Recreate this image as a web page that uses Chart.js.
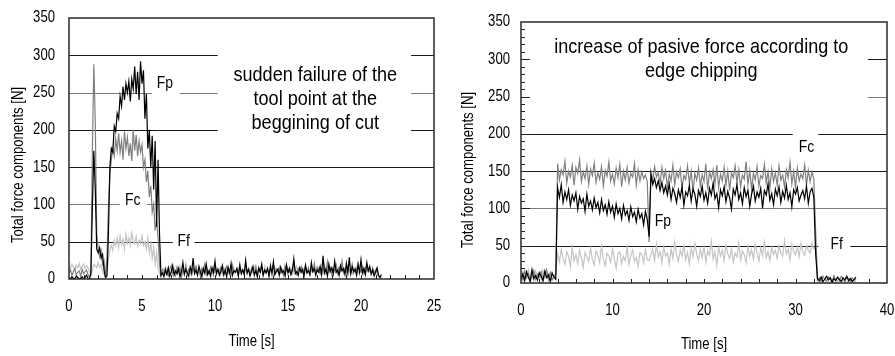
<!DOCTYPE html>
<html>
<head>
<meta charset="utf-8">
<script src="https://cdn.jsdelivr.net/npm/chart.js@4.4.0/dist/chart.umd.min.js"></script>
<style>
  html, body { margin: 0; padding: 0; background: #fff; }
  #wrap { position: relative; width: 895px; height: 356px; overflow: hidden; }
  canvas { position: absolute; top: 0; }
  #left { left: 0; }
  #right { left: 447px; }
</style>
</head>
<body>
<div id="wrap">
  <canvas id="left" width="447" height="356"></canvas>
  <canvas id="right" width="448" height="356"></canvas>
</div>
<script>
// ---- data ----
const yTicks = [0, 50, 100, 150, 200, 250, 300, 350];
const leftXTicks = [0, 5, 10, 15, 20, 25];
const rightXTicks = [0, 10, 20, 30, 40];
const LEFT_STEP = 0.1;   // s between samples, left record
const RIGHT_STEP = 0.2;  // s between samples, right record

// left: sudden failure of the tool point
const leftFp = [2,0,3,1,0,4,2,0,1,3,0,2,5,1,0,
  8,95,172,120,40,35,42,28,33,12,
  2,4,60,150,175,170,205,198,222,215,
  245,232,258,240,262,250,265,238,268,255,
  285,248,278,240,292,262,280,215,248,175,
  200,150,192,120,185,70,160,60,5,
  8,3,12,6,15,4,9,18,5,11,7,14,3,10,22,6,13,8,4,16,
  9,28,7,12,5,17,10,3,14,8,20,6,11,4,15,9,24,7,13,5,
  10,18,6,12,3,16,8,21,5,11,9,14,4,19,7,12,6,25,8,13,
  4,10,17,6,11,3,15,9,20,5,12,8,14,4,18,7,23,6,10,13,
  5,16,9,11,4,19,8,14,6,12,27,7,10,5,15,9,13,4,18,8,
  11,6,22,10,14,5,12,9,17,6,31,8,13,4,20,10,15,7,24,9,
  12,5,18,11,14,6,21,8,29,7,16,10,13,5,19,9,26,8,14,6,
  22,11,17,7,12,4,9,15,5,2,6];
const leftFc = [8,12,5,10,14,6,9,11,4,13,7,10,12,6,3,
  5,170,288,210,60,40,30,38,20,25,
  3,30,95,140,160,175,165,188,172,195,
  170,185,160,198,175,190,165,182,158,200,
  172,193,165,185,170,180,150,160,130,145,
  110,125,90,100,65,80,55,20,4,
  12,6,15,9,4,13,18,7,11,5,16,10,14,3,12,8,19,6,13,9,
  5,15,11,17,7,12,4,14,10,20,6,13,8,16,11,5,18,9,12,7,
  15,10,4,13,17,8,11,6,19,12,9,14,5,16,10,13,7,21,9,12,
  6,15,11,4,17,8,14,10,18,6,12,9,15,5,13,11,20,7,14,10,
  16,8,12,5,18,11,9,15,7,13,22,10,6,14,12,17,8,11,19,9,
  15,6,13,10,21,8,16,12,7,14,11,18,9,23,10,15,6,13,12,19,
  8,16,11,24,9,14,7,17,12,10,20,8,15,11,22,13,9,16,7,14,
  18,10,12,6,15,8,11,13,4,2,3];
const leftFf = [18,14,20,16,12,19,15,21,13,17,20,14,18,15,10,
  4,12,20,18,15,22,16,19,10,6,
  2,8,25,40,45,38,52,44,55,42,
  58,46,53,40,60,48,55,45,62,50,
  47,57,44,52,48,58,45,50,40,55,
  35,48,28,42,20,35,15,8,3,
  10,14,7,12,16,5,11,9,15,6,13,8,17,4,12,10,14,7,11,15,
  6,13,9,16,8,12,5,14,10,7,15,11,6,13,9,17,8,12,10,14,
  5,11,16,7,13,9,12,6,15,10,8,14,11,18,7,12,9,13,6,15,
  10,11,8,16,12,7,14,9,13,5,17,10,12,8,15,11,6,14,9,13,
  10,16,7,12,8,15,11,9,14,6,13,10,17,8,12,11,15,7,14,9,
  12,6,16,10,13,8,11,15,9,14,7,12,10,18,8,13,11,16,9,12,
  6,14,10,15,8,13,11,17,9,12,7,14,10,16,8,11,13,9,15,7,
  12,10,14,8,11,9,13,6,4,3,2];

// right: passive force rising after edge chipping
const rightFp = [5,12,3,15,8,2,18,6,10,4,14,9,3,16,7,11,2,13,8,5,
  128,115,132,108,122,112,125,104,118,110,121,99,116,107,113,96,119,103,110,98,
  114,101,108,94,112,97,105,92,109,95,103,88,106,93,100,86,104,91,97,84,
  102,89,95,82,99,87,93,78,96,85,
  62,
  145,132,140,128,137,124,135,121,130,118,133,112,127,120,108,125,115,129,104,122,
  117,131,110,126,119,103,124,116,130,111,121,107,127,118,134,113,120,101,125,117,
  129,109,123,114,99,126,118,132,112,121,106,128,116,124,103,119,130,110,122,115,
  127,100,124,118,133,111,120,105,126,117,129,108,123,114,131,112,121,102,125,119,
  128,110,118,124,113,130,107,122,127,115,
  40,
  6,3,8,2,5,9,4,7,1,6,3,8,5,2,7,4,9,3,6,2,5,8];
const rightFc = [10,4,16,7,13,2,9,17,5,12,8,15,3,11,18,6,14,4,9,12,
  160,138,152,145,163,134,150,142,158,131,155,147,165,136,149,140,157,132,153,144,
  161,135,148,139,156,130,151,143,162,137,146,133,154,141,159,129,150,138,155,134,
  147,142,160,131,152,137,149,140,145,136,
  55,
  150,138,156,142,148,133,155,140,151,128,146,137,158,132,149,141,153,127,144,139,
  157,134,150,122,147,138,154,130,145,136,160,125,149,140,152,133,158,128,146,137,
  155,131,150,124,148,141,157,135,152,129,145,139,163,132,151,126,147,138,156,130,
  144,140,159,134,149,127,153,136,148,131,157,138,145,129,152,141,162,133,150,128,
  154,137,146,140,158,132,151,136,149,140,
  70,
  4,7,2,9,5,3,8,6,2,10,4,7,3,9,5,2,8,6,4,7,3,6];
const rightFf = [8,15,4,11,18,6,13,3,16,9,12,5,17,7,14,2,10,15,6,12,
  40,28,45,33,25,42,36,22,48,30,38,26,44,34,21,41,35,29,47,31,
  24,43,37,27,50,32,23,40,36,28,46,33,20,39,42,26,35,30,48,25,
  37,44,29,34,22,41,38,27,45,31,
  30,
  38,45,30,52,35,42,27,48,36,40,25,46,33,55,38,29,44,36,50,31,
  41,26,47,35,53,39,30,45,34,49,28,43,37,56,32,42,24,48,36,44,
  30,51,39,33,46,28,40,35,54,31,43,38,27,49,36,45,32,52,40,29,
  47,37,55,34,42,30,48,38,44,33,50,41,36,57,39,45,31,52,43,38,
  48,35,53,42,37,50,44,40,54,46,
  48,
  3,1,4,2,0,3,1,2,4,1,0,3,2,1,4,2,0,3,1,2,3,1];

const seriesColors = { Fp: "#000000", Fc: "#808080", Ff: "#c4c4c4" };
const greyGrid = [100, 250];

// the scanned figure has tall, squeezed lettering; no narrow face here, so squeeze by hand
const FAMILY = '"Liberation Sans", Arial, sans-serif';
const TXT = {
  tick: { size: 16, sx: 0.82 },
  title: { size: 16, sx: 0.82 },
  tag: { size: 17, sx: 0.82 },
  note: { size: 21, sx: 0.86 }
};

function squeezed(ctx, txt, x, y, style, align, rot) {
  ctx.save();
  ctx.font = `${style.size}px ${FAMILY}`;
  ctx.fillStyle = "#000";
  ctx.textAlign = align || "center";
  ctx.textBaseline = "middle";
  ctx.translate(x, y);
  if (rot) ctx.rotate(rot);
  ctx.scale(style.sx, 1);
  ctx.fillText(txt, 0, 0);
  ctx.restore();
}

const toPoints = (vals, step) => vals.map((v, i) => ({ x: Math.round(i * step * 10) / 10, y: v }));

// grid pieces, minor ticks, labels, curve tags and the text box
const overlay = {
  id: "overlay",
  beforeDatasetsDraw(chart, args, o) {
    const { ctx, chartArea: a, scales: { x, y } } = chart;
    ctx.save();
    ctx.lineWidth = 1;
    o.grid.forEach(([v, spans]) => {
      const py = Math.round(y.getPixelForValue(v)) + 0.5;
      ctx.strokeStyle = greyGrid.includes(v) ? "#7a7a7a" : "#1a1a1a";
      spans.forEach(([t0, t1]) => {
        ctx.beginPath();
        ctx.moveTo(x.getPixelForValue(t0), py);
        ctx.lineTo(x.getPixelForValue(t1), py);
        ctx.stroke();
      });
    });

    ctx.strokeStyle = "#222";
    const nx = Math.round((x.max - x.min) / o.xMinor);
    for (let i = 1; i < nx; i++) {
      const px = Math.round(x.getPixelForValue(x.min + i * o.xMinor)) + 0.5;
      ctx.beginPath();
      ctx.moveTo(px, a.bottom);
      ctx.lineTo(px, a.bottom - 4);
      ctx.stroke();
    }
    if (o.yMinor) {
      const ny = Math.round(350 / o.yMinor);
      for (let i = 1; i < ny; i++) {
        const v = i * o.yMinor;
        const py = Math.round(y.getPixelForValue(v)) + 0.5;
        ctx.beginPath();
        ctx.moveTo(a.left, py);
        ctx.lineTo(a.left + (v % 50 === 0 ? 9 : 4), py);
        ctx.stroke();
      }
    }
    ctx.restore();

    // tick labels from the scales' own ticks
    x.ticks.forEach(t => squeezed(ctx, String(t.value), x.getPixelForValue(t.value), a.bottom + 28, TXT.tick));
    y.ticks.forEach(t => squeezed(ctx, String(t.value), a.left - o.yPad, y.getPixelForValue(t.value), TXT.tick, "right"));
    squeezed(ctx, "Time [s]", (a.left + a.right) / 2, a.bottom + o.xTitleDy, TXT.title);
    squeezed(ctx, "Total force components [N]", o.yTitle[0], o.yTitle[1], TXT.title, "center", -Math.PI / 2);

    o.tags.forEach(([txt, t, v]) => squeezed(ctx, txt, x.getPixelForValue(t), y.getPixelForValue(v), TXT.tag));
    o.note.lines.forEach((txt, i) =>
      squeezed(ctx, txt, x.getPixelForValue(o.note.t), y.getPixelForValue(o.note.v) + i * 24, TXT.note));
  },
  afterDatasetsDraw(chart) {
    const { ctx, chartArea: a } = chart;
    ctx.save();
    ctx.strokeStyle = "#2a2a2a";
    ctx.lineWidth = 1.5;
    ctx.strokeRect(a.left, a.top, a.width, a.height);
    ctx.restore();
  }
};

function makeChart(id, cfg) {
  return new Chart(document.getElementById(id), {
    type: "line",
    data: {
      datasets: cfg.series.map(([name, vals]) => ({
        label: name,
        data: toPoints(vals, cfg.step),
        borderColor: seriesColors[name],
        borderWidth: 1.2,
        pointRadius: 0,
        tension: 0,
        fill: false
      }))
    },
    options: {
      responsive: false,
      animation: false,
      devicePixelRatio: 1,
      layout: { padding: cfg.padding },
      plugins: { legend: { display: false }, tooltip: { enabled: false }, overlay: cfg.overlay },
      scales: {
        x: {
          type: "linear",
          min: cfg.xTicks[0],
          max: cfg.xTicks[cfg.xTicks.length - 1],
          afterBuildTicks: s => { s.ticks = cfg.xTicks.map(v => ({ value: v })); },
          afterFit: s => { s.height = cfg.xHeight; },
          grid: { display: false, drawTicks: false },
          border: { display: false },
          ticks: { display: false }
        },
        y: {
          min: 0,
          max: 350,
          afterBuildTicks: s => { s.ticks = yTicks.map(v => ({ value: v })); },
          afterFit: s => { s.width = cfg.yWidth; },
          grid: { display: false, drawTicks: false },
          border: { display: false },
          ticks: { display: false }
        }
      }
    },
    plugins: [overlay]
  });
}

makeChart("left", {
  step: LEFT_STEP,
  xTicks: leftXTicks,
  series: [["Fp", leftFp], ["Fc", leftFc], ["Ff", leftFf]],
  padding: { top: 18, right: 13, left: 0, bottom: 0 },
  xHeight: 77, yWidth: 69,
  overlay: {
    grid: [
      [300, [[0, 10.18], [23.43, 25]]],
      [250, [[0, 5.67], [7.58, 10.18], [23.43, 25]]],
      [200, [[0, 10.18], [23.43, 25]]],
      [150, [[0, 25]]],
      [100, [[0, 3.48], [5.33, 25]]],
      [50, [[0, 7.1], [8.6, 25]]]
    ],
    xMinor: 1,
    yMinor: 0,
    yPad: 14,
    xTitleDy: 63,
    tags: [["Fp", 6.56, 263], ["Fc", 4.37, 106], ["Ff", 7.86, 50]],
    note: { t: 16.87, v: 273.6, lines: ["sudden failure of the", "tool point at the", "beggining of cut"] },
    yTitle: [19, 165]
  }
});

makeChart("right", {
  step: RIGHT_STEP,
  xTicks: rightXTicks,
  series: [["Fp", rightFp], ["Fc", rightFc], ["Ff", rightFf]],
  padding: { top: 22, right: 8, left: 0, bottom: 0 },
  xHeight: 73, yWidth: 74,
  overlay: {
    grid: [
      [300, [[37.9, 40]]],
      [250, [[37.9, 40]]],
      [200, [[0, 29.7], [32.5, 40]]],
      [150, [[0, 40]]],
      [100, [[0, 14.1], [17.4, 40]]],
      [50, [[0, 32.5], [36, 40]]]
    ],
    xMinor: 2,
    yMinor: 10,
    yPad: 11,
    xTitleDy: 62,
    tags: [["Fp", 15.5, 83], ["Fc", 31.2, 182], ["Ff", 34.5, 52]],
    note: { t: 19.7, v: 316.5, lines: ["increase of pasive force according to", "edge chipping"] },
    yTitle: [22, 170]
  }
});
</script>
</body>
</html>
